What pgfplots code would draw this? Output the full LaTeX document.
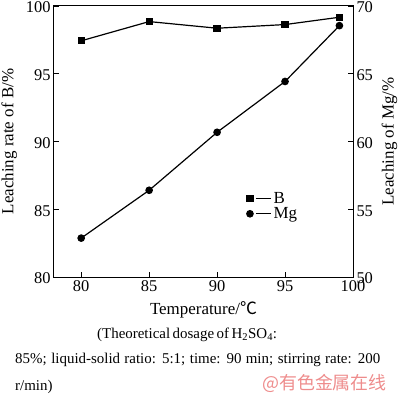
\documentclass[border=0pt]{standalone}
\usepackage{pgfplots}
\pgfplotsset{compat=1.18}
\usepackage{fontspec}
\setmainfont{Liberation Serif}
\newfontfamily\cjk{Noto Sans CJK SC}
\definecolor{wm}{RGB}{238,140,140}
\begin{document}
\begin{tikzpicture}[x=1bp,y=1bp]
\useasboundingbox (-54,-122) rectangle (346,277);
\pgfplotsset{
  myax/.style={
    at={(0,0)}, anchor=south west,
    width=299bp, height=271bp, scale only axis,
    xmin=78, xmax=100,
    tick align=inside, major tick length=5bp,
    every tick/.style={black, line width=0.9bp},
    axis line style={line width=1bp},
    /pgf/number format/assume math mode=true,
    ticklabel style={font=\fontsize{16.5}{18}\selectfont},
    yticklabel style={yshift=-1.5bp},
    label style={font=\fontsize{17}{19}\selectfont},
  }
}
\begin{axis}[myax,
  ymin=80, ymax=100,
  xtick={80,85,...,100}, ytick={80,85,...,100},
  xtick pos=bottom, ytick pos=left,
  xlabel={Temperature/{\cjk ℃}},
  ylabel={Leaching rate of B/\%},
  ylabel style={yshift=2bp},
  xlabel style={yshift=-3bp},
]
\addplot[black, line width=1.2bp, mark=square*, mark size=3bp] coordinates {
(80,97.43) (85,98.85) (90,98.36) (95,98.63) (99,99.17)};
\end{axis}
\begin{axis}[myax,
  ymin=50, ymax=70,
  ytick={50,55,...,70},
  axis y line*=right, axis x line=none,
  ylabel={Leaching of Mg/\%},
  ylabel style={yshift=-2bp},
  legend style={draw=none, fill=none, at={(0.644,0.262)}, anchor=west,
    inner sep=0pt, row sep=-1bp, font=\fontsize{17}{19}\selectfont,
    /tikz/every even column/.append style={column sep=2bp}},
  legend cell align=left,
  legend image code/.code={\draw[#1,mark=none] (6bp,0bp) -- (21bp,0bp);
     \draw[#1] plot coordinates {(0bp,0bp)};},
]
\addlegendimage{black, line width=1.2bp, mark=square*, mark size=3bp}
\addlegendentry{B}
\addplot[black, line width=1.2bp, mark=*, mark size=3.2bp] coordinates {
(80,52.87) (85,56.4) (90,60.68) (95,64.43) (99,68.55)};
\addlegendentry{Mg}
\end{axis}
\node[anchor=base west, inner sep=0pt, font=\fontsize{15}{17}\selectfont] at (43,-61)
  {\makebox[172bp][s]{(Theoretical dosage of H\textsubscript{2}SO\textsubscript{4}:}};
\node[anchor=base west, inner sep=0pt, font=\fontsize{15}{17}\selectfont] at (-39,-86)
  {\makebox[365bp][s]{85\%; liquid-solid ratio: 5:1; time: 90 min; stirring rate: 200}};
\node[anchor=base west, inner sep=0pt, font=\fontsize{15}{17}\selectfont] at (-39,-113)
  {r/min)};
\node[anchor=west, inner sep=0pt, text=wm, font=\cjk\fontsize{18}{18}\selectfont] at (208,-106)
  {@有色金属在线};
\end{tikzpicture}
\end{document}
